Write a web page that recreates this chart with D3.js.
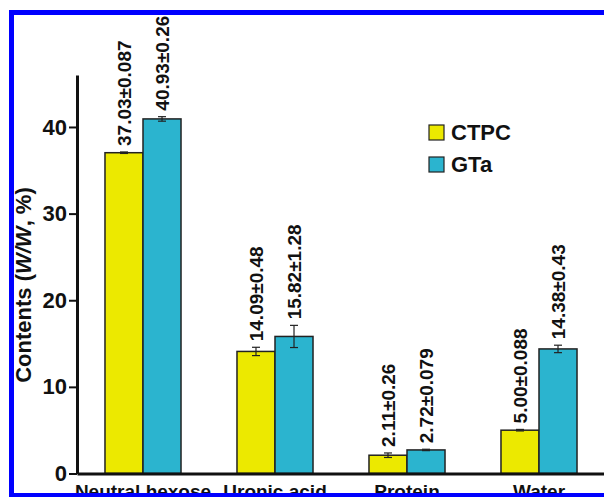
<!DOCTYPE html>
<html>
<head>
<meta charset="utf-8">
<script src="https://cdn.jsdelivr.net/npm/d3@7"></script>
<style>
  body { margin: 0; background: #fff; }
  svg { display: block; font-family: Arial, "Liberation Sans", sans-serif; font-weight: bold; }
</style>
</head>
<body>
<div id="chart"></div>
<script>
// data
const categories = ["Neutral hexose", "Uronic acid", "Protein", "Water"];
const series = ["CTPC", "GTa"];
const ctpcValues = [37.03, 14.09, 2.11, 5.00];
const ctpcErrors = [0.087, 0.48, 0.26, 0.088];
const gtaValues = [40.93, 15.82, 2.72, 14.38];
const gtaErrors = [0.26, 1.28, 0.079, 0.43];
const yTicks = [0, 10, 20, 30, 40];
const colors = ["#ece900", "#2bb4cf"];

const rows = [];
categories.forEach((c, i) => {
  rows.push({ cat: c, s: "CTPC", v: ctpcValues[i], e: ctpcErrors[i] });
  rows.push({ cat: c, s: "GTa", v: gtaValues[i], e: gtaErrors[i] });
});

const W = 604, H = 497;
const svg = d3.select("#chart").append("svg")
  .attr("width", W).attr("height", H);

svg.append("rect").attr("width", W).attr("height", H).attr("fill", "#fff");

const x = d3.scaleBand().domain(categories).range([77, 605])
  .paddingInner(0.424).paddingOuter(0.212);
const x1 = d3.scaleBand().domain(series).range([0, x.bandwidth()]);
const y = d3.scaleLinear().domain([0, 46]).range([473.5, 75]);
const color = d3.scaleOrdinal().domain(series).range(colors);

// bars
const bars = svg.append("g");
bars.selectAll("rect").data(rows).enter().append("rect")
  .attr("x", d => x(d.cat) + x1(d.s))
  .attr("y", d => y(d.v))
  .attr("width", x1.bandwidth())
  .attr("height", d => y(0) - y(d.v))
  .attr("fill", d => color(d.s))
  .attr("stroke", "#222")
  .attr("stroke-width", 1.5);

// error bars
const err = svg.append("g").attr("stroke", "#222").attr("stroke-width", 1.2);
rows.forEach(d => {
  const cx = x(d.cat) + x1(d.s) + x1.bandwidth() / 2;
  const y0 = y(d.v - d.e), y1 = y(d.v + d.e);
  err.append("line").attr("x1", cx).attr("x2", cx).attr("y1", y0).attr("y2", y1);
  err.append("line").attr("x1", cx - 4).attr("x2", cx + 4).attr("y1", y0).attr("y2", y0);
  err.append("line").attr("x1", cx - 4).attr("x2", cx + 4).attr("y1", y1).attr("y2", y1);
});

// value labels
svg.append("g").selectAll("text").data(rows).enter().append("text")
  .attr("transform", d => {
    const cx = x(d.cat) + x1(d.s) + x1.bandwidth() / 2;
    return `translate(${cx},${y(d.v + d.e) - 6}) rotate(-90)`;
  })
  .attr("dy", "0.36em")
  .style("font-size", "19px")
  .attr("fill", "#111")
  .text(d => d.v.toFixed(2) + "±" + String(d.e));

// y axis
const yAxis = svg.append("g")
  .attr("transform", "translate(77,0)")
  .call(d3.axisLeft(y).tickValues(yTicks).tickSize(8).tickSizeOuter(0).tickPadding(2));
yAxis.select(".domain").attr("stroke", "#111").attr("stroke-width", 3);
yAxis.selectAll(".tick line").attr("stroke", "#111").attr("stroke-width", 2);
yAxis.selectAll(".tick text").style("font-size", "22px").style("font-family", "Arial, 'Liberation Sans', sans-serif").style("font-weight", "bold").attr("fill", "#111");

// x axis
const xAxis = svg.append("g")
  .attr("transform", `translate(0,${y(0)})`)
  .call(d3.axisBottom(x).tickSize(0).tickSizeOuter(0).tickPadding(11));
xAxis.select(".domain").attr("stroke", "#111").attr("stroke-width", 3);
xAxis.selectAll(".tick text").style("font-size", "19px").style("font-family", "Arial, 'Liberation Sans', sans-serif").style("font-weight", "bold").attr("fill", "#111");

// y label
const yl = svg.append("text")
  .attr("transform", "translate(31,285) rotate(-90)")
  .attr("text-anchor", "middle")
  .style("font-size", "22px")
  .attr("fill", "#111");
yl.append("tspan").text("Contents (");
yl.append("tspan").style("font-style", "italic").text("W/W");
yl.append("tspan").text(", %)");

// legend
const legend = svg.append("g").attr("transform", "translate(429,125)");
series.forEach((s, i) => {
  const row = legend.append("g").attr("transform", `translate(0,${i * 32})`);
  row.append("rect").attr("width", 15).attr("height", 15)
    .attr("fill", color(s)).attr("stroke", "#222").attr("stroke-width", 1.2);
  row.append("text").attr("x", 22).attr("y", 7.5).attr("dy", "0.36em")
    .style("font-size", "22px").attr("fill", "#111").text(s);
});

// blue frame
svg.append("rect")
  .attr("x", 11.5).attr("y", 12.5).attr("width", 600).attr("height", 483)
  .attr("fill", "none").attr("stroke", "#0000ff").attr("stroke-width", 5);
</script>
</body>
</html>
